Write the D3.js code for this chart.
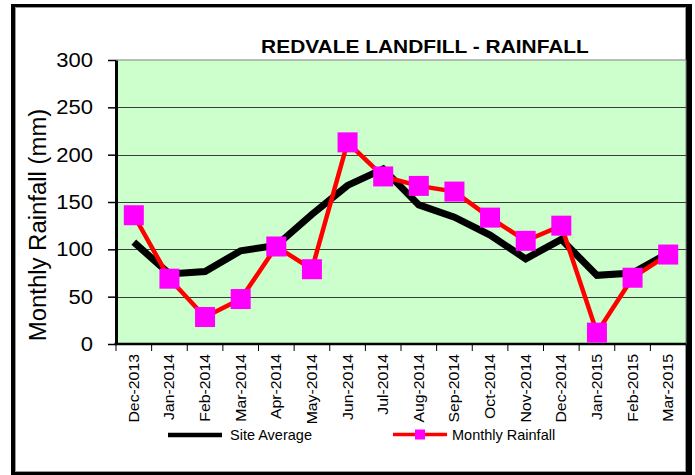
<!DOCTYPE html>
<html>
<head>
<meta charset="utf-8">
<script src="https://cdn.jsdelivr.net/npm/d3@7"></script>
<style>
  body { margin: 0; background: #fff; }
  svg { display: block; font-family: "Liberation Sans", Arial, sans-serif; }
</style>
</head>
<body>
<div id="chart"></div>
<script>
// data
const months = ["Dec-2013", "Jan-2014", "Feb-2014", "Mar-2014", "Apr-2014", "May-2014",
  "Jun-2014", "Jul-2014", "Aug-2014", "Sep-2014", "Oct-2014", "Nov-2014",
  "Dec-2014", "Jan-2015", "Feb-2015", "Mar-2015"];
const siteAverage = [107.5, 74, 76.5, 98.5, 104, 137, 167.5, 185, 147, 134, 115, 90, 110.5, 72.5, 75, 96];
const monthlyRainfall = [136, 69, 28.5, 47.5, 103, 79, 213, 177, 167, 161, 133.5, 109, 125, 12, 70, 94.5];
const yTicks = [0, 50, 100, 150, 200, 250, 300];
const titleText = "REDVALE LANDFILL - RAINFALL";
const yTitle = "Monthly Rainfall (mm)";
const legendNames = ["Site Average", "Monthly Rainfall"];

const width = 695;
const height = 475;
const plot = { left: 116, right: 686, top: 60, bottom: 344 };

const svg = d3.select("#chart").append("svg")
  .attr("width", width)
  .attr("height", height);

// stretch text a bit wider, the original renders its fonts wide
function stretch(sel, k) {
  sel.each(function() {
    const w = this.getComputedTextLength();
    d3.select(this).attr("textLength", w * k).attr("lengthAdjust", "spacingAndGlyphs");
  });
}

// outer frame
svg.append("rect").attr("x", 11).attr("y", 4).attr("width", 681).attr("height", 472).attr("fill", "#000");
svg.append("rect").attr("x", 15.5).attr("y", 7.5).attr("width", 670).attr("height", 464)
  .attr("fill", "#fff").attr("stroke", "#999").attr("stroke-width", 1);

const x = d3.scaleBand()
  .domain(months)
  .range([plot.left, plot.right])
  .padding(0);

const y = d3.scaleLinear()
  .domain([0, 300])
  .range([plot.bottom, plot.top]);

const xc = d => x(d) + x.bandwidth() / 2;

// plot background
svg.append("rect")
  .attr("x", plot.left).attr("y", plot.top)
  .attr("width", plot.right - plot.left).attr("height", plot.bottom - plot.top)
  .attr("fill", "#ccffcc")
  .attr("stroke", "#808080").attr("stroke-width", 1);

// gridlines
svg.append("g")
  .selectAll("line")
  .data(yTicks.filter(d => d > 0 && d < 300))
  .join("line")
  .attr("x1", plot.left).attr("x2", plot.right)
  .attr("y1", d => Math.round(y(d)) + 0.5).attr("y2", d => Math.round(y(d)) + 0.5)
  .attr("stroke", "#3a3a3a").attr("stroke-width", 1.2);

// y axis
const yAxis = svg.append("g")
  .attr("transform", `translate(${plot.left},0)`)
  .call(d3.axisLeft(y).tickValues(yTicks).tickSize(8).tickPadding(15).tickSizeOuter(0));
yAxis.select(".domain").attr("stroke", "#000").attr("stroke-width", 3);
yAxis.selectAll(".tick line").attr("stroke", "#000").attr("stroke-width", 1.5);
yAxis.selectAll("text")
  .attr("fill", "#000")
  .style("font-size", "20px")
  .attr("dy", "0.33em")
  .call(stretch, 1.1);

// x axis line and ticks at category boundaries
svg.append("line")
  .attr("x1", plot.left - 1.5).attr("x2", plot.right)
  .attr("y1", plot.bottom).attr("y2", plot.bottom)
  .attr("stroke", "#000").attr("stroke-width", 2.5);

svg.append("g")
  .selectAll("line")
  .data(months)
  .join("line")
  .attr("x1", d => x(d)).attr("x2", d => x(d))
  .attr("y1", plot.bottom).attr("y2", plot.bottom + 7)
  .attr("stroke", "#000").attr("stroke-width", 1);

svg.append("g")
  .selectAll("text")
  .data(months)
  .join("text")
  .attr("transform", d => `translate(${xc(d)},354) rotate(-90)`)
  .attr("text-anchor", "end")
  .attr("dy", "0.36em")
  .style("font-size", "14px")
  .attr("fill", "#000")
  .text(d => d)
  .call(stretch, 1.13);

// lines
const avgLine = d3.line()
  .x((d, i) => xc(months[i]))
  .y(d => y(d));

svg.append("path")
  .datum(siteAverage)
  .attr("d", avgLine)
  .attr("fill", "none")
  .attr("stroke", "#000")
  .attr("stroke-width", 7);

svg.append("path")
  .datum(monthlyRainfall)
  .attr("d", avgLine)
  .attr("fill", "none")
  .attr("stroke", "#ff0000")
  .attr("stroke-width", 4.5);

svg.append("g")
  .selectAll("rect")
  .data(monthlyRainfall)
  .join("rect")
  .attr("x", (d, i) => xc(months[i]) - 10)
  .attr("y", d => y(d) - 10)
  .attr("width", 20).attr("height", 20)
  .attr("fill", "#ff00ff");

// title
svg.append("text")
  .attr("x", 425).attr("y", 52.5)
  .attr("text-anchor", "middle")
  .style("font-size", "19px")
  .style("font-weight", "bold")
  .attr("fill", "#000")
  .text(titleText)
  .call(stretch, 1.1);

// y title
svg.append("text")
  .attr("transform", "translate(46,225) rotate(-90)")
  .attr("text-anchor", "middle")
  .style("font-size", "23px")
  .attr("fill", "#000")
  .text(yTitle)
  .call(stretch, 1.04);

// legend
const legend = svg.append("g");
legend.append("line")
  .attr("x1", 168).attr("x2", 222).attr("y1", 435).attr("y2", 435)
  .attr("stroke", "#000").attr("stroke-width", 4.5);
legend.append("text")
  .attr("x", 230).attr("y", 440)
  .style("font-size", "14.5px")
  .attr("fill", "#000")
  .text(legendNames[0]);

legend.append("line")
  .attr("x1", 393).attr("x2", 447).attr("y1", 434.5).attr("y2", 434.5)
  .attr("stroke", "#ff0000").attr("stroke-width", 3.5);
legend.append("rect")
  .attr("x", 415).attr("y", 429.5).attr("width", 10).attr("height", 10)
  .attr("fill", "#ff00ff");
legend.append("text")
  .attr("x", 452).attr("y", 440)
  .style("font-size", "14.5px")
  .attr("fill", "#000")
  .text(legendNames[1]);
</script>
</body>
</html>
